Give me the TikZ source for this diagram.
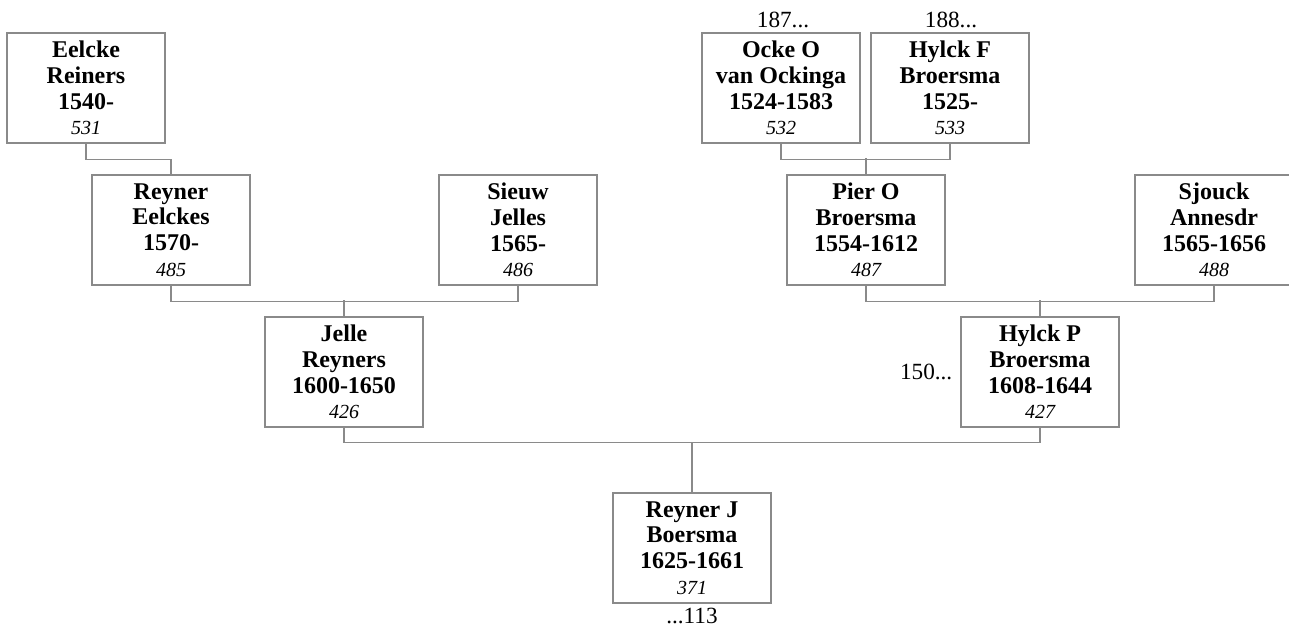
\documentclass[tikz,border=0pt]{standalone}
\usepackage{fontspec}
\setmainfont{Liberation Serif}
\usepackage{xcolor}
\usepackage{tikz}
\usetikzlibrary{calc}
\definecolor{boxline}{RGB}{138,138,138}
\newcommand{\pnum}[1]{{\mdseries\itshape\fontsize{15}{19.2}\selectfont #1}}

\begin{document}
\begin{tikzpicture}[
      x=0.75pt,y=-0.75pt,
      person/.style={draw=boxline,line width=1pt,minimum width=118.5pt,
                  minimum height=82.5pt,inner sep=1pt,align=center,
                  font=\bfseries\fontsize{18}{19.2}\selectfont},
      link/.style={draw=boxline,line width=1pt},
      more/.style={font=\fontsize{17.4}{19}\selectfont},
    ]
    \useasboundingbox (0,0) rectangle (1289,628);
    % top row
    \node[person] (eelcke) at (86,88)  {Eelcke\\Reiners\\1540-\\\pnum{531}};
    \node[person] (ocke)   at (781,88) {Ocke O\\van Ockinga\\1524-1583\\\pnum{532}};
    \node[person] (hylckF) at (950,88) {Hylck F\\Broersma\\1525-\\\pnum{533}};
    % second row
    \node[person] (reynerE) at (171,230)  {Reyner\\Eelckes\\1570-\\\pnum{485}};
    \node[person] (sieuw)   at (518,230)  {Sieuw\\Jelles\\1565-\\\pnum{486}};
    \node[person] (pier)    at (866,230)  {Pier O\\Broersma\\1554-1612\\\pnum{487}};
    \node[person] (sjouck)  at (1214,230) {Sjouck\\Annesdr\\1565-1656\\\pnum{488}};
    % third row
    \node[person] (jelle)  at (344,372)  {Jelle\\Reyners\\1600-1650\\\pnum{426}};
    \node[person] (hylckP) at (1040,372) {Hylck P\\Broersma\\1608-1644\\\pnum{427}};
    % root
    \node[person] (reynerJ) at (692,548) {Reyner J\\Boersma\\1625-1661\\\pnum{371}};
    % continuation marks
    \node[more] (ockeup)   at (783,20)  {187...};
    \node[more] (hylckFup) at (951,20)  {188...};
    \node[more,anchor=east] (hylckPside) at (957,372) {150...};
    \node[more] (reynerJdown) at (692,616) {...113};
    % connectors
    \draw[link] (eelcke.south) -- ++(0,16) -| (reynerE.north);
    \draw[link] (ocke.south) -- ++(0,16) -| (hylckF.south);
    \draw[link] (pier.north) -- ++(0,-16);
    \draw[link] (reynerE.south) -- ++(0,16) -| (sieuw.south);
    \draw[link] (jelle.north) -- ++(0,-16);
    \draw[link] (pier.south) -- ++(0,16) -| (sjouck.south);
    \draw[link] (hylckP.north) -- ++(0,-16);
    \draw[link] (jelle.south) -- ++(0,15) coordinate (bar) -| (hylckP.south);
    \draw[link] (reynerJ.north) -- (reynerJ.north |- bar);
  \end{tikzpicture}
\end{document}
